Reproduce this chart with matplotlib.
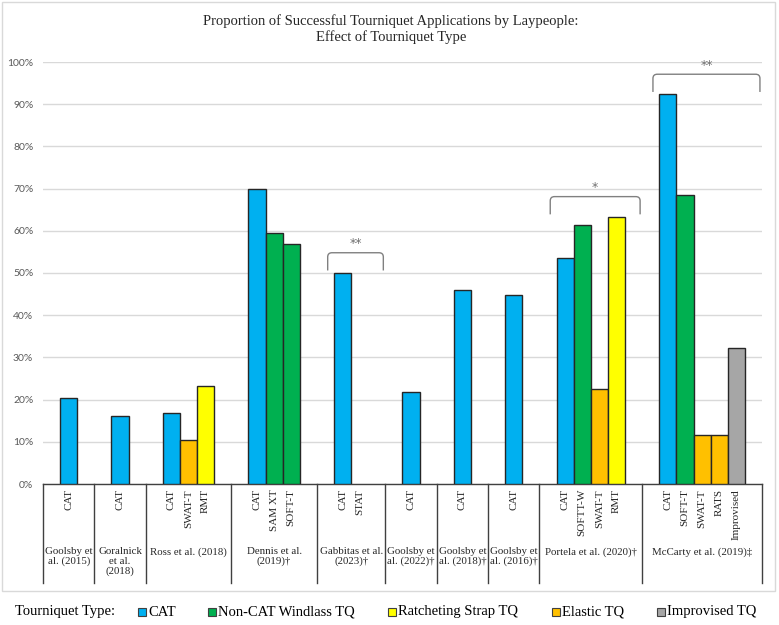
import matplotlib
matplotlib.use("Agg")
import matplotlib.pyplot as plt
from matplotlib.patches import Rectangle, PathPatch
from matplotlib.path import Path

# ---------------- data ----------------
studies = ["Goolsby et\nal. (2015)", "Goralnick\net al.\n(2018)", "Ross et al. (2018)",
           "Dennis et al.\n(2019)†", "Gabbitas et al.\n(2023)†", "Goolsby et\nal. (2022)†",
           "Goolsby et\nal. (2018)†", "Goolsby et\nal. (2016)†", "Portela et al. (2020)†",
           "McCarty et al. (2019)‡"]
devices = [["CAT"], ["CAT"], ["CAT", "SWAT-T", "RMT"], ["CAT", "SAM XT", "SOFT-T"],
           ["CAT", "STAT"], ["CAT"], ["CAT"], ["CAT"],
           ["CAT", "SOFTT-W", "SWAT-T", "RMT"],
           ["CAT", "SOFT-T", "SWAT-T", "RATS", "Improvised"]]
values = [[20.4], [16.2], [16.8, 10.5, 23.3], [69.8, 59.5, 56.8], [50.0, 0.0],
          [21.8], [46.0], [44.7], [53.6, 61.3, 22.4, 63.3],
          [92.3, 68.5, 11.5, 11.5, 32.3]]
tq_types = [["CAT"], ["CAT"], ["CAT", "Elastic", "Ratchet"], ["CAT", "Windlass", "Windlass"],
            ["CAT", "Windlass"], ["CAT"], ["CAT"], ["CAT"],
            ["CAT", "Windlass", "Elastic", "Ratchet"],
            ["CAT", "Windlass", "Elastic", "Elastic", "Improvised"]]
significance = ["", "", "", "", "**", "", "", "", "*", "**"]

type_names = ["CAT", "Windlass", "Ratchet", "Elastic", "Improvised"]
type_labels = ["CAT", "Non-CAT Windlass TQ", "Ratcheting Strap TQ", "Elastic TQ", "Improvised TQ"]
type_colors = {"CAT": "#00B0F0", "Windlass": "#00B050", "Ratchet": "#FFFF00",
               "Elastic": "#FFC000", "Improvised": "#A6A6A6"}

yticks = list(range(0, 101, 10))
title = "Proportion of Successful Tourniquet Applications by Laypeople:\nEffect of Tourniquet Type"

# ---------------- figure ----------------
W, H = 779, 625
fig = plt.figure(figsize=(W / 100, H / 100), dpi=100)
serif = ["Liberation Serif", "DejaVu Serif"]

# outer chart border
fig.add_artist(Rectangle((2 / W, 1 - 591 / H), 773 / W, 589 / H, transform=fig.transFigure,
                         fill=False, edgecolor="#D9D9D9", lw=1.0))

ax_left, ax_right, ax_bottom, ax_top = 43, 762, 484, 62
ax = fig.add_axes([ax_left / W, 1 - ax_bottom / H, (ax_right - ax_left) / W, (ax_bottom - ax_top) / H])
ax_h = ax_bottom - ax_top

# slots
starts = []
pos = 0
for devs in devices:
    starts.append(pos)
    pos += len(devs) + 2
total_slots = pos

for g, devs in enumerate(devices):
    for j, d in enumerate(devs):
        x = starts[g] + 1 + j + 0.5
        v = values[g][j]
        if v > 0:
            ax.bar(x, v, width=1.0, color=type_colors[tq_types[g][j]], edgecolor="#262626",
                   linewidth=1.0, zorder=3)

ax.set_xlim(0, total_slots)
ax.set_ylim(0, 100)
ax.set_yticks(yticks)
ax.set_yticklabels([f"{t}%" for t in yticks], fontsize=7.5, color="#595959", family="Lato")
ax.tick_params(axis="y", length=0, pad=7)
ax.set_xticks([])
ax.yaxis.grid(True, color="#D9D9D9", lw=1.0)
ax.set_axisbelow(True)
for s in ["top", "right", "left"]:
    ax.spines[s].set_visible(False)
ax.spines["bottom"].set_color("#404040")
ax.spines["bottom"].set_linewidth(1.0)

trans = ax.get_xaxis_transform()
sep_depth = -(583 - ax_bottom) / ax_h
bounds = starts + [total_slots]
for b in bounds:
    ax.plot([b, b], [0, sep_depth], transform=trans, color="#404040", lw=1.0, clip_on=False)

for g, devs in enumerate(devices):
    for j, d in enumerate(devs):
        x = starts[g] + 1 + j + 0.5
        ax.text(x, -(489 - ax_bottom) / ax_h, d, transform=trans, rotation=90, ha="center",
                va="top", fontsize=8, family=serif, color="#262626")
    xc = starts[g] + (len(devs) + 2) / 2
    ax.text(xc, -(547 - ax_bottom) / ax_h, studies[g], transform=trans, ha="center", va="top",
            fontsize=7.8, family=serif, color="#262626", linespacing=1.1)

# significance brackets
for g, sig in enumerate(significance):
    if not sig:
        continue
    n = len(devices[g]) + 2
    x0 = starts[g] + 0.63
    x1 = starts[g] + n - 0.12
    yb = max(values[g]) + 0.6
    yt = yb + 4.2
    rx, ry = 0.25, 1.0
    verts = [(x0, yb), (x0, yt - ry), (x0, yt), (x0 + rx, yt), (x1 - rx, yt), (x1, yt),
             (x1, yt - ry), (x1, yb)]
    codes = [Path.MOVETO, Path.LINETO, Path.CURVE3, Path.CURVE3, Path.LINETO, Path.CURVE3,
             Path.CURVE3, Path.LINETO]
    ax.add_patch(PathPatch(Path(verts, codes), fill=False, edgecolor="#808080", lw=1.0,
                           clip_on=False, zorder=4))
    ax.text((x0 + x1) / 2, yt + 0.6, sig, ha="center", va="bottom", fontsize=9,
            color="#707070", family="DejaVu Sans", clip_on=False)

# title
fig.text(391 / W, 1 - 29 / H, title, ha="center", va="center", fontsize=10.5, family=serif,
         color="#262626", linespacing=1.25)

# legend
ly = 1 - 612 / H
fig.text(15 / W, ly, "Tourniquet Type:", ha="left", va="center", fontsize=10.5, family=serif,
         color="#000000")
leg_x = [138, 208, 388, 552, 657]
for lx, tn, tl in zip(leg_x, type_names, type_labels):
    fig.add_artist(Rectangle((lx / W, ly - 4 / H), 8 / W, 8 / H, transform=fig.transFigure,
                             facecolor=type_colors[tn], edgecolor="#404040", lw=0.8))
    fig.text((lx + 10) / W, ly, tl, ha="left", va="center", fontsize=10.5, family=serif,
             color="#000000")

fig.savefig("out.png", dpi=100)
